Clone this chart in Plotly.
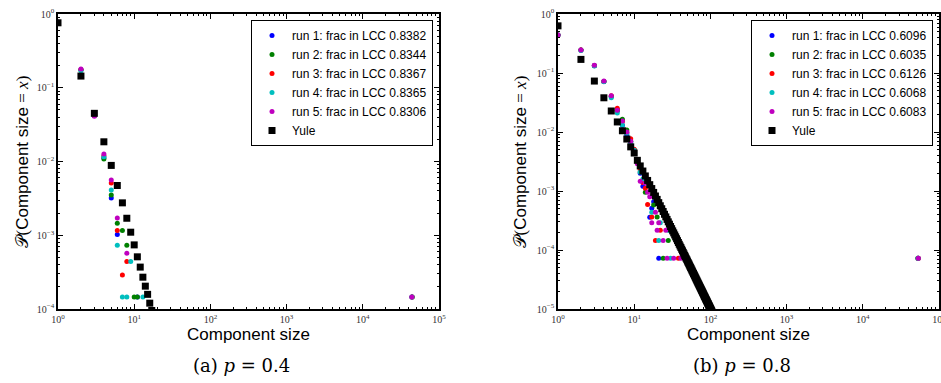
import plotly.graph_objects as go

# ---------------- data ----------------
run_colors = ["#0000ff", "#008000", "#ff0000", "#00bfbf", "#bf00bf"]

# panel (a): p = 0.4
a_labels = ["run 1: frac in LCC 0.8382", "run 2: frac in LCC 0.8344",
            "run 3: frac in LCC 0.8367", "run 4: frac in LCC 0.8365",
            "run 5: frac in LCC 0.8306"]
a_run1_x = [1, 2, 3, 4, 5, 6, 11, 44100]
a_run1_y = [0.77, 0.175, 0.042, 0.0112, 0.0032, 0.00102, 0.000146, 0.000146]
a_run2_x = [1, 2, 3, 4, 5, 6, 7, 8, 10, 11, 44500]
a_run2_y = [0.77, 0.175, 0.042, 0.0108, 0.0035, 0.00146, 0.00116, 0.00073, 0.000146, 0.000146, 0.000146]
a_run3_x = [1, 2, 3, 4, 5, 6, 7, 8, 44300]
a_run3_y = [0.77, 0.175, 0.042, 0.0120, 0.0051, 0.00116, 0.00029, 0.00044, 0.000146]
a_run4_x = [1, 2, 3, 4, 5, 6, 7, 8, 9, 13, 44200]
a_run4_y = [0.77, 0.170, 0.042, 0.0116, 0.0041, 0.00073, 0.000146, 0.000146, 0.00044, 0.000146, 0.000146]
a_run5_x = [1, 2, 3, 4, 5, 6, 8, 44000]
a_run5_y = [0.77, 0.180, 0.041, 0.0126, 0.0056, 0.00172, 0.00057, 0.000146]
a_yule_x = list(range(1, 19))
a_yule_y = [0.76, 0.144, 0.045, 0.0185, 0.00885, 0.00473, 0.00275, 0.0017, 0.0011,
            0.00074, 0.00051, 0.00037, 0.00027, 0.000204, 0.000158, 0.00012,
            0.0000955, 0.000076]

# panel (b): p = 0.8
b_labels = ["run 1: frac in LCC 0.6096", "run 2: frac in LCC 0.6035",
            "run 3: frac in LCC 0.6126", "run 4: frac in LCC 0.6068",
            "run 5: frac in LCC 0.6083"]
b_run1_x = [1, 2, 3, 4, 5, 6, 7, 8, 9, 10, 11, 12, 13, 16, 17, 18, 21, 53300]
b_run1_y = [0.44, 0.245, 0.134, 0.072, 0.040, 0.0235, 0.0130, 0.0089, 0.0068, 0.0047,
            0.0031, 0.0020, 0.0012, 0.00036, 0.00051, 0.00066, 0.0000725, 0.0000725]
b_run2_x = [1, 2, 3, 4, 5, 6, 7, 8, 9, 10, 11, 12, 14, 18, 20, 24, 28, 29, 52700]
b_run2_y = [0.44, 0.245, 0.133, 0.072, 0.040, 0.023, 0.0164, 0.0108, 0.0070, 0.0050,
            0.0033, 0.0021, 0.00095, 0.00058, 0.000362, 0.0000725, 0.000145, 0.000217, 0.0000725]
b_run3_x = [1, 2, 3, 4, 5, 6, 7, 8, 9, 10, 11, 12, 13, 14, 15, 17, 19, 22, 38, 53600]
b_run3_y = [0.44, 0.245, 0.134, 0.072, 0.041, 0.0252, 0.015, 0.0098, 0.0077, 0.0051,
            0.0034, 0.0023, 0.0014, 0.00111, 0.00059, 0.000362, 0.000145, 0.000217,
            0.0000725, 0.0000725]
b_run4_x = [1, 2, 3, 4, 5, 6, 7, 8, 9, 10, 11, 12, 13, 17, 21, 22, 28, 30, 53100]
b_run4_y = [0.44, 0.24, 0.132, 0.071, 0.038, 0.0209, 0.0132, 0.0095, 0.0065, 0.0049,
            0.0032, 0.0021, 0.0016, 0.000435, 0.000145, 0.00029, 0.000217, 0.0000725, 0.0000725]
b_run5_x = [1, 2, 3, 4, 5, 6, 7, 8, 9, 10, 11, 12, 14, 15, 16, 17, 19, 20, 21, 24, 26,
            27, 33, 41, 53400]
b_run5_y = [0.44, 0.245, 0.135, 0.073, 0.041, 0.0233, 0.0154, 0.0100, 0.0070, 0.0046,
            0.0029, 0.00147, 0.00135, 0.00095, 0.0008, 0.00029, 0.000435, 0.000217,
            0.00029, 0.000145, 0.000217, 0.0000725, 0.0000725, 0.0000725, 0.0000725]
b_yule_x = list(range(1, 111))
b_yule_y = [0.63, 0.17, 0.073, 0.038, 0.0227, 0.0148, 0.0105, 0.0076, 0.0056, 0.0044,
            3.31e-3, 2.66e-3, 2.18e-3, 1.80e-3, 1.51e-3, 1.28e-3, 1.10e-3, 9.46e-4, 8.23e-4, 7.21e-4,
            6.35e-4, 5.62e-4, 5.01e-4, 4.49e-4, 4.03e-4, 3.64e-4, 3.30e-4, 3.00e-4, 2.74e-4, 2.50e-4,
            2.30e-4, 2.11e-4, 1.95e-4, 1.80e-4, 1.67e-4, 1.55e-4, 1.44e-4, 1.34e-4, 1.25e-4, 1.17e-4,
            1.10e-4, 1.03e-4, 9.68e-5, 9.12e-5, 8.59e-5, 8.10e-5, 7.65e-5, 7.23e-5, 6.85e-5, 6.49e-5,
            6.16e-5, 5.85e-5, 5.56e-5, 5.29e-5, 5.04e-5, 4.81e-5, 4.58e-5, 4.38e-5, 4.18e-5, 4.00e-5,
            3.83e-5, 3.67e-5, 3.51e-5, 3.37e-5, 3.23e-5, 3.10e-5, 2.98e-5, 2.86e-5, 2.75e-5, 2.65e-5,
            2.55e-5, 2.46e-5, 2.37e-5, 2.29e-5, 2.21e-5, 2.13e-5, 2.06e-5, 1.99e-5, 1.92e-5, 1.86e-5,
            1.80e-5, 1.74e-5, 1.68e-5, 1.63e-5, 1.58e-5, 1.53e-5, 1.48e-5, 1.44e-5, 1.40e-5, 1.36e-5,
            1.32e-5, 1.28e-5, 1.24e-5, 1.21e-5, 1.17e-5, 1.14e-5, 1.11e-5, 1.08e-5, 1.05e-5, 1.02e-5,
            9.95e-6, 9.7e-6, 9.4e-6, 9.2e-6, 8.9e-6, 8.7e-6, 8.5e-6, 8.3e-6, 8.1e-6, 7.9e-6]

x_tick_vals = [1, 10, 100, 1000, 10000, 100000]
x_tick_text = ["10<sup>0</sup>", "10<sup>1</sup>", "10<sup>2</sup>", "10<sup>3</sup>",
               "10<sup>4</sup>", "10<sup>5</sup>"]
a_y_tick_vals = [1, 0.1, 0.01, 0.001, 0.0001]
a_y_tick_text = ["10<sup>0</sup>", "10<sup>\u22121</sup>", "10<sup>\u22122</sup>",
                 "10<sup>\u22123</sup>", "10<sup>\u22124</sup>"]
b_y_tick_vals = [1, 0.1, 0.01, 0.001, 0.0001, 0.00001]
b_y_tick_text = a_y_tick_text + ["10<sup>\u22125</sup>"]

# ---------------- figure ----------------
W, H = 941, 383
fig = go.Figure()

a_runs = [(a_run1_x, a_run1_y), (a_run2_x, a_run2_y), (a_run3_x, a_run3_y),
          (a_run4_x, a_run4_y), (a_run5_x, a_run5_y)]
b_runs = [(b_run1_x, b_run1_y), (b_run2_x, b_run2_y), (b_run3_x, b_run3_y),
          (b_run4_x, b_run4_y), (b_run5_x, b_run5_y)]

for (xs, ys), lab, col in zip(a_runs, a_labels, run_colors):
    fig.add_trace(go.Scatter(x=xs, y=ys, mode="markers", name=lab,
                             marker=dict(color=col, size=5, line=dict(width=0)),
                             xaxis="x", yaxis="y", legend="legend"))
fig.add_trace(go.Scatter(x=a_yule_x, y=a_yule_y, mode="markers", name="Yule",
                         marker=dict(color="black", size=7, symbol="square", line=dict(width=0)),
                         xaxis="x", yaxis="y", legend="legend"))
for (xs, ys), lab, col in zip(b_runs, b_labels, run_colors):
    fig.add_trace(go.Scatter(x=xs, y=ys, mode="markers", name=lab,
                             marker=dict(color=col, size=5, line=dict(width=0)),
                             xaxis="x2", yaxis="y2", legend="legend2"))
fig.add_trace(go.Scatter(x=b_yule_x, y=b_yule_y, mode="markers", name="Yule",
                         marker=dict(color="black", size=7, symbol="square", line=dict(width=0)),
                         xaxis="x2", yaxis="y2", legend="legend2"))

minor_vals = [m * 10.0 ** e for e in range(-6, 6) for m in range(2, 10)]
tick_font = dict(family="Liberation Serif", size=10, color="#333")


def axis(domain, rng, tv, tt, anchor):
    return dict(type="log", domain=domain, range=rng, anchor=anchor, automargin=False,
                showline=True, linecolor="black", linewidth=1.5, mirror="allticks",
                ticks="inside", ticklen=5, tickwidth=1, tickcolor="black",
                tickmode="array", tickvals=tv, ticktext=tt, tickfont=tick_font,
                ticklabeloverflow="allow",
                showgrid=False, zeroline=False,
                minor=dict(ticks="inside", ticklen=2.5, tickwidth=1, tickcolor="black",
                           tickmode="array", tickvals=minor_vals, showgrid=False))


ydom = [1 - 309 / H, 1 - 14 / H]
xa_dom = [58 / W, 439 / W]
xb_dom = [558 / W, 939 / W]

legend_style = dict(bgcolor="white", bordercolor="black", borderwidth=1,
                    font=dict(family="Liberation Sans", size=12, color="black"),
                    xanchor="left", yanchor="top", xref="paper", yref="paper",
                    tracegroupgap=0)

title_font = dict(family="Liberation Sans", size=17, color="black")
cap_font = dict(family="DejaVu Serif", size=18, color="black")
ytitle = ('<span style="font-family:Liberation Serif">\U0001D4AB(</span>Component size'
          '<span style="font-family:Liberation Serif"> = <i>x</i>)</span>')

annotations = []
for cx, lx, cap in [((58 + 439) / 2, 22, "(a) <i>p</i> = 0.4"),
                    ((558 + 939) / 2, 520, "(b) <i>p</i> = 0.8")]:
    annotations.append(dict(text="Component size", x=cx / W, y=1 - 334 / H, xref="paper",
                            yref="paper", showarrow=False, font=title_font,
                            xanchor="center", yanchor="middle"))
    annotations.append(dict(text=cap, x=(cx - 7) / W, y=1 - 365 / H, xref="paper",
                            yref="paper", showarrow=False, font=cap_font,
                            xanchor="center", yanchor="middle"))
    annotations.append(dict(text=ytitle, x=lx / W, y=1 - 161.5 / H, xref="paper",
                            yref="paper", showarrow=False, font=title_font, textangle=-90,
                            xanchor="center", yanchor="middle"))

fig.update_layout(
    width=W, height=H, margin=dict(l=0, r=0, t=0, b=0, autoexpand=False),
    paper_bgcolor="white", plot_bgcolor="white",
    xaxis=axis(xa_dom, [0, 5], x_tick_vals, x_tick_text, "y"),
    yaxis=axis(ydom, [-4, 0], a_y_tick_vals, a_y_tick_text, "x"),
    xaxis2=axis(xb_dom, [0, 5], x_tick_vals, x_tick_text, "y2"),
    yaxis2=axis(ydom, [-5, 0], b_y_tick_vals, b_y_tick_text, "x2"),
    legend=dict(x=251 / W, y=1 - 20 / H, **legend_style),
    legend2=dict(x=751 / W, y=1 - 20 / H, **legend_style),
    annotations=annotations,
    showlegend=True,
)

fig.write_html("out.html", config={"displayModeBar": False},
               post_script="document.body.style.margin='0';")
